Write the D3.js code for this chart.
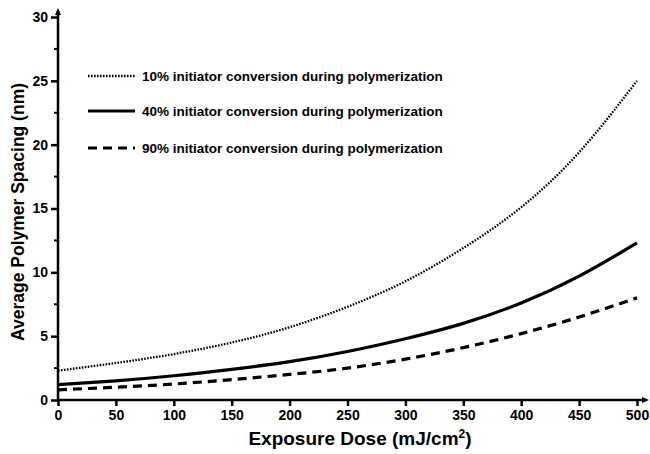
<!DOCTYPE html>
<html>
<head>
<meta charset="utf-8">
<script src="https://cdn.jsdelivr.net/npm/d3@7"></script>
<style>
  body { margin: 0; background: #fff; }
  text { font-family: "Liberation Sans", Arial, sans-serif; fill: #000; }
</style>
</head>
<body>
<div id="chart"></div>
<script>
const dose = [0, 50, 100, 150, 200, 250, 300, 350, 400, 450, 500];
const conv10 = [2.3, 2.9, 3.6, 4.5, 5.7, 7.3, 9.3, 11.9, 15.1, 19.4, 25.0];
const conv40 = [1.2, 1.5, 1.9, 2.4, 3.0, 3.8, 4.8, 6.0, 7.6, 9.7, 12.3];
const conv90 = [0.8, 1.0, 1.25, 1.6, 2.0, 2.5, 3.2, 4.1, 5.2, 6.5, 8.0];
const seriesNames = [
  '10% initiator conversion during polymerization',
  '40% initiator conversion during polymerization',
  '90% initiator conversion during polymerization'
];
const xTicks = [0, 50, 100, 150, 200, 250, 300, 350, 400, 450, 500];
const yTicks = [0, 5, 10, 15, 20, 25, 30];

const width = 650, height = 454;
const svg = d3.select('#chart').append('svg')
  .attr('width', width).attr('height', height);

const x = d3.scaleLinear().domain([0, 500]).range([58, 637]);
const y = d3.scaleLinear().domain([0, 30]).range([400, 17]);

const styles = [
  { width: 2.3, dash: '1.6,1.4' },
  { width: 3.2, dash: null },
  { width: 3.2, dash: '9,6' }
];
const series = [conv10, conv40, conv90];

// axes
const xAxis = svg.append('g').attr('transform', `translate(0,${y(0)})`)
  .call(d3.axisBottom(x).tickValues(xTicks).tickSize(6).tickPadding(4));
const yAxis = svg.append('g').attr('transform', `translate(${x(0)},0)`)
  .call(d3.axisLeft(y).tickValues(yTicks).tickSize(7).tickPadding(3));

[xAxis, yAxis].forEach(a => {
  a.select('.domain').remove();
  a.selectAll('line').attr('stroke', '#000').attr('stroke-width', 2.5);
  a.selectAll('text').attr('font-size', 14)
    .style('font-family', '"Liberation Sans", Arial, sans-serif')
    .style('font-weight', 'bold');
});

// minor y ticks
svg.append('g').selectAll('line')
  .data(d3.range(2.5, 30, 5))
  .enter().append('line')
  .attr('x1', x(0) - 4).attr('x2', x(0) + 1)
  .attr('y1', d => y(d)).attr('y2', d => y(d))
  .attr('stroke', '#000').attr('stroke-width', 2);

// axis lines with arrows
svg.append('line')
  .attr('x1', x(0)).attr('x2', x(0))
  .attr('y1', y(0) + 1).attr('y2', y(30) - 6)
  .attr('stroke', '#000').attr('stroke-width', 2.5);
svg.append('path')
  .attr('d', `M${x(0) - 3},${y(30) - 2} L${x(0)},${y(30) - 9} L${x(0) + 3},${y(30) - 2} Z`)
  .attr('fill', '#000');
svg.append('line')
  .attr('x1', x(0) - 1).attr('x2', x(500) + 8)
  .attr('y1', y(0)).attr('y2', y(0))
  .attr('stroke', '#000').attr('stroke-width', 2.5);
svg.append('path')
  .attr('d', `M${x(500) + 5},${y(0) - 3} L${x(500) + 12},${y(0)} L${x(500) + 5},${y(0) + 3} Z`)
  .attr('fill', '#000');

// curves - smooth through the read-off points
const line = d3.line()
  .x((d, i) => x(dose[i]))
  .y(d => y(d))
  .curve(d3.curveNatural);

series.forEach((s, i) => {
  svg.append('path')
    .datum(s)
    .attr('d', line)
    .attr('fill', 'none')
    .attr('stroke', '#000')
    .attr('stroke-width', styles[i].width)
    .attr('stroke-dasharray', styles[i].dash);
});

// legend
const legendY = [76, 111, 148];
seriesNames.forEach((name, i) => {
  svg.append('line')
    .attr('x1', 88).attr('x2', 135)
    .attr('y1', legendY[i]).attr('y2', legendY[i])
    .attr('stroke', '#000')
    .attr('stroke-width', styles[i].width)
    .attr('stroke-dasharray', styles[i].dash);
  svg.append('text')
    .attr('x', 142).attr('y', legendY[i] + 5)
    .attr('font-size', 13.5)
    .attr('font-weight', 'bold')
    .text(name);
});

// axis titles
svg.append('text')
  .attr('x', 360).attr('y', 445)
  .attr('text-anchor', 'middle')
  .attr('font-size', 19)
  .attr('font-weight', 'bold')
  .html('Exposure Dose (mJ/cm<tspan dy="-7" font-size="12">2</tspan><tspan dy="7">)</tspan>');

svg.append('text')
  .attr('transform', 'translate(24,212) rotate(-90)')
  .attr('text-anchor', 'middle')
  .attr('font-size', 17.5)
  .attr('font-weight', 'bold')
  .text('Average Polymer Spacing (nm)');
</script>
</body>
</html>
